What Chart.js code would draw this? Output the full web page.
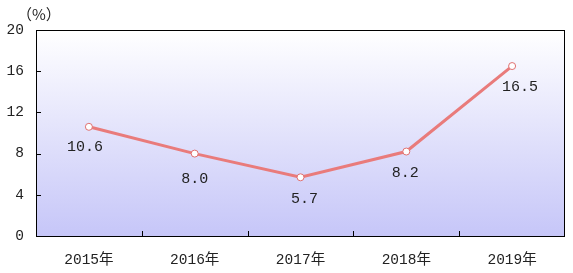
<!DOCTYPE html>
<html lang="zh">
<head>
  <meta charset="UTF-8" />
  <title>增长率</title>
  <script src="https://cdn.jsdelivr.net/npm/chart.js@4.4.0/dist/chart.umd.min.js"></script>
  <style>
    html, body { margin: 0; padding: 0; background: #fff; }
    .wrap { position: relative; width: 573px; height: 273px; }
  </style>
</head>
<body>
  <div class="wrap"><canvas id="growthChart"></canvas></div>
  <script>
    const years = ['2015年', '2016年', '2017年', '2018年', '2019年'];
    const growth = [10.6, 8.0, 5.7, 8.2, 16.5];
    const yTicks = [0, 4, 8, 12, 16, 20];

    const FONT = '"Liberation Mono", "Noto Sans CJK SC", monospace';
    // value label nudges (px), relative to each point
    const labelDx = [-4, 0, 4, -1, 8];
    const labelDy = [20, 25, 22, 21, 21];

    // plot background, frame, inner tick marks, value labels, unit
    const decor = {
      id: 'decor',
      beforeDraw(chart) {
        const { ctx, chartArea: a } = chart;
        const g = ctx.createLinearGradient(0, a.top, 0, a.bottom);
        g.addColorStop(0, '#ffffff');
        g.addColorStop(1, '#c6c6f8');
        ctx.save();
        ctx.fillStyle = g;
        ctx.fillRect(a.left, a.top, a.right - a.left, a.bottom - a.top);
        ctx.restore();
      },
      afterDatasetsDraw(chart) {
        const { ctx, chartArea: a, scales } = chart;
        ctx.save();
        ctx.strokeStyle = '#000';
        ctx.lineWidth = 1;
        ctx.strokeRect(a.left + 0.5, a.top + 0.5, a.right - a.left - 1, a.bottom - a.top);
        ctx.beginPath();
        yTicks.forEach(v => {
          if (v === 0 || v === 20) return;
          const y = Math.round(scales.y.getPixelForValue(v)) + 0.5;
          ctx.moveTo(a.left, y);
          ctx.lineTo(a.left + 5, y);
        });
        for (let i = 0; i < years.length - 1; i++) {
          const x = Math.round((scales.x.getPixelForValue(i) + scales.x.getPixelForValue(i + 1)) / 2) + 0.5;
          ctx.moveTo(x, a.bottom);
          ctx.lineTo(x, a.bottom - 5);
        }
        ctx.stroke();

        ctx.fillStyle = '#222';
        ctx.font = '15px ' + FONT;
        ctx.textAlign = 'center';
        ctx.textBaseline = 'middle';
        const meta = chart.getDatasetMeta(0);
        meta.data.forEach((pt, i) => {
          ctx.fillText(growth[i].toFixed(1), pt.x + labelDx[i], pt.y + labelDy[i]);
        });

        ctx.textAlign = 'left';
        ctx.font = '15px "Noto Sans CJK SC", sans-serif';
        ctx.fillText('（%）', 17, 14);
        ctx.restore();
      }
    };

    new Chart(document.getElementById('growthChart'), {
      type: 'line',
      data: {
        labels: years,
        datasets: [{
          data: growth,
          borderColor: '#e97b7b',
          borderWidth: 3,
          pointRadius: 3.5,
          pointBackgroundColor: '#ffffff',
          pointBorderColor: '#e07070',
          pointBorderWidth: 1,
          tension: 0
        }]
      },
      options: {
        responsive: true,
        maintainAspectRatio: false,
        animation: false,
        layout: { padding: { top: 30, right: 8, left: 0, bottom: 0 } },
        plugins: { legend: { display: false }, tooltip: { enabled: false } },
        scales: {
          x: {
            offset: true,
            grid: { display: false, drawTicks: false },
            border: { display: false },
            ticks: { color: '#222', font: { size: 14.5, family: FONT }, padding: 15 },
            afterFit(s) { s.height = 37; }
          },
          y: {
            min: 0,
            max: 20,
            afterBuildTicks(s) { s.ticks = yTicks.map(v => ({ value: v })); },
            grid: { display: false, drawTicks: false },
            border: { display: false },
            ticks: { color: '#222', font: { size: 14.5, family: FONT }, padding: 12 },
            afterFit(s) { s.width = 36; }
          }
        }
      },
      plugins: [decor]
    });
  </script>
</body>
</html>
